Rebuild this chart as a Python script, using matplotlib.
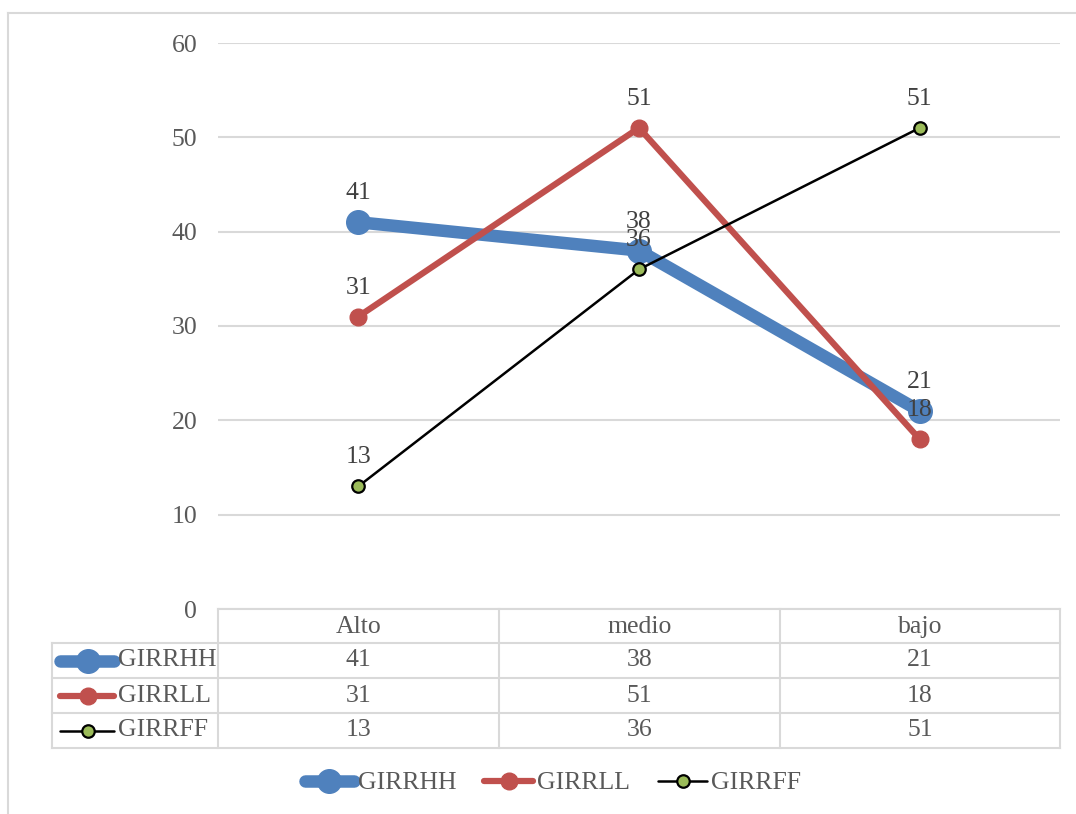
import matplotlib.pyplot as plt
from matplotlib.lines import Line2D

plt.rcParams['font.family'] = ['Liberation Serif', 'DejaVu Serif']

categorias = ['Alto', 'medio', 'bajo']
series = ['GIRRHH', 'GIRRLL', 'GIRRFF']
girrhh = [41, 38, 21]
girrll = [31, 51, 18]
girrff = [13, 36, 51]
valores = [girrhh, girrll, girrff]

W, H = 1076, 814
gris = '#595959'
rejilla = '#D9D9D9'
fs = 18.5

estilos = [
    dict(color='#4F81BD', lw=9, marker='o', ms=17, mfc='#4F81BD', mec='#4F81BD'),
    dict(color='#C0504D', lw=4.5, marker='o', ms=12, mfc='#C0504D', mec='#C0504D'),
    dict(color='black', lw=1.8, marker='o', ms=9, mfc='#9BBB59', mec='black', mew=1.6),
]

fig = plt.figure(figsize=(W / 100, H / 100), dpi=100)


def fx(x):
    return x / W


def fy(y):
    return 1 - y / H


def linea(x0, y0, x1, y1, **kw):
    kw.setdefault('color', rejilla)
    kw.setdefault('lw', 1.5)
    fig.add_artist(Line2D([fx(x0), fx(x1)], [fy(y0), fy(y1)], **kw))


# marco exterior
linea(8, 13, 8, 814)
linea(8, 13, 1076, 13)

ax = fig.add_axes([fx(218), fy(609), fx(1060) - fx(218), fy(43) - fy(609)])
ax.set_ylim(0, 60)
ax.set_xlim(-0.5, 2.5)
ax.set_yticks(range(0, 61, 10))
ax.set_xticks([])
ax.tick_params(axis='y', length=0, pad=15, labelsize=fs, labelcolor=gris)
for s in ax.spines.values():
    s.set_visible(False)
ax.grid(axis='y', color=rejilla, lw=1.5)
ax.set_axisbelow(True)

x = range(len(categorias))
for nombre, vals, est in zip(series, valores, estilos):
    ax.plot(x, vals, label=nombre, solid_capstyle='round', **est)
    for xi, v in zip(x, vals):
        ax.annotate(str(v), (xi, v), xytext=(0, 29), textcoords='offset pixels',
                    ha='center', va='center', fontsize=fs, color='#404040')

# tabla de datos
col = [218, 499, 780, 1060]
filas = [609, 643, 678, 713, 748]
linea(218, 609, 1060, 609)
for yy in filas[1:]:
    linea(52, yy, 1060, yy)
for xx in col:
    linea(xx, 609, xx, 748)
linea(52, 643, 52, 748)

for i, c in enumerate(categorias):
    fig.text(fx((col[i] + col[i + 1]) / 2), fy(627), c, ha='center', va='center',
             fontsize=fs, color=gris)

for j, (nombre, vals, est) in enumerate(zip(series, valores, estilos)):
    yc = (filas[j + 1] + filas[j + 2]) / 2
    h = Line2D([fx(60), fx(88), fx(114)], [fy(yc)] * 3, solid_capstyle='round',
               markevery=[1], **est)
    fig.add_artist(h)
    fig.text(fx(118), fy(yc), nombre, ha='left', va='center', fontsize=fs, color=gris)
    for i, v in enumerate(vals):
        fig.text(fx((col[i] + col[i + 1]) / 2), fy(yc), str(v), ha='center',
                 va='center', fontsize=fs, color=gris)

# leyenda inferior
handles = []
for est in estilos:
    h = Line2D([0, 1, 2], [0, 0, 0], solid_capstyle='round', markevery=[1], **est)
    handles.append(h)
fig.legend(handles, series, loc='center', bbox_to_anchor=(fx(553), fy(783)), ncol=3,
           frameon=False, fontsize=fs, labelcolor=gris, handlelength=1.9,
           handletextpad=0.15, columnspacing=1.1)

fig.savefig('out.png', dpi=100)
